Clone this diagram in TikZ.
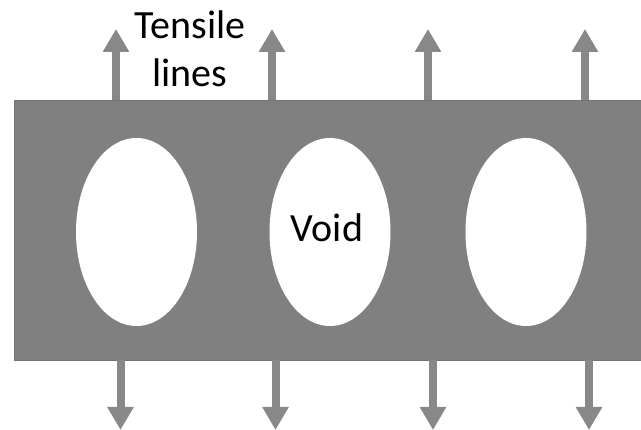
\documentclass[tikz,border=0pt]{standalone}
\usepackage{fontspec}
\setmainfont{Carlito}
\usetikzlibrary{arrows.meta,shapes.geometric}
\definecolor{plate}{RGB}{128,128,128}
\definecolor{arrowgray}{RGB}{136,136,136}
\begin{document}
\begin{tikzpicture}[x=1pt,y=-1pt,
  tarrow/.style={draw=arrowgray,line width=8pt,-{Triangle[length=23pt,width=25pt]}},
  lbl/.style={font=\fontsize{40}{48}\selectfont,text=black,inner sep=0pt}]
\useasboundingbox (0,0) rectangle (641,430);
\fill[white] (0,0) rectangle (641,430);
\node[draw=plate!90!black,fill=plate,line width=1pt,minimum width=640pt,minimum height=260pt,anchor=north west,inner sep=0pt] (plate) at (14,100) {};
\foreach \i/\cx in {1/136.5,2/330,3/526}{
  \node[ellipse,fill=white,minimum width=121pt,minimum height=188pt,inner sep=0pt] (v\i) at (\cx,232) {};
}
\node[lbl] (void) at (327,228) {Void};
\node[lbl,align=center,anchor=base] (tl) at (190,87) {Tensile\\lines};
\foreach \i/\tx/\bx in {1/116/120.5,2/272/275.5,3/428/433,4/585/589}{
  \coordinate (t\i) at (\tx,29);
  \coordinate (b\i) at (\bx,430);
  \coordinate (ts\i) at (\tx,100);
  \coordinate (bs\i) at (\bx,360);
  \draw[tarrow] (ts\i) -- (t\i);
  \draw[tarrow] (bs\i) -- (b\i);
}
\end{tikzpicture}
\end{document}
